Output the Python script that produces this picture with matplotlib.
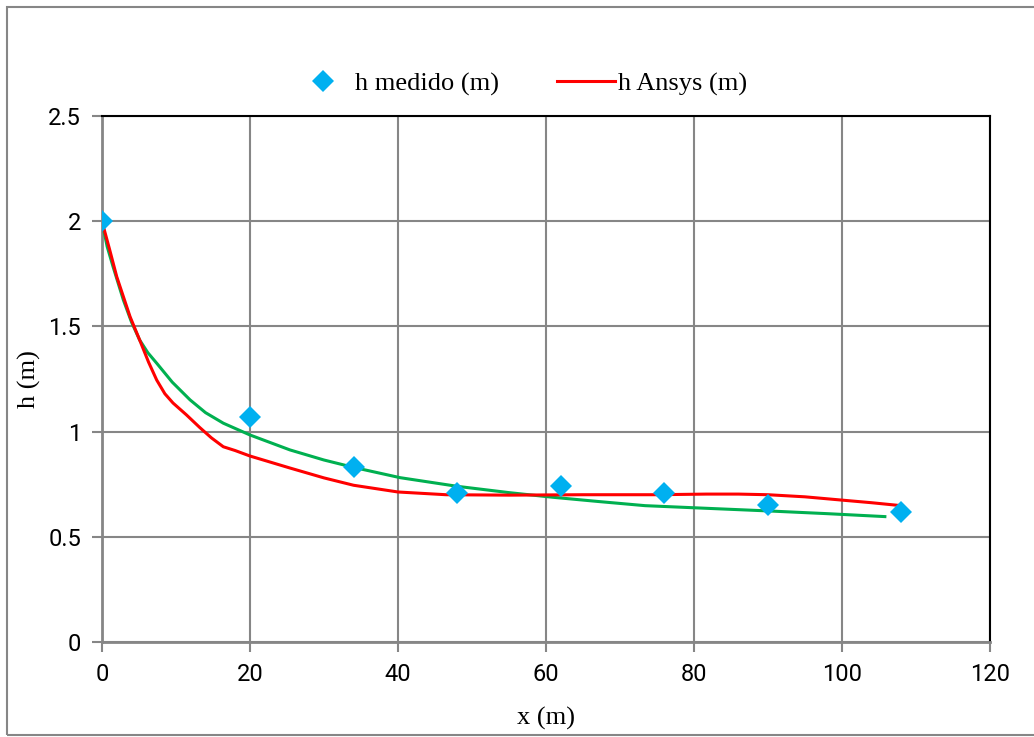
import matplotlib
matplotlib.use("Agg")
import matplotlib.pyplot as plt
from matplotlib.lines import Line2D

# measured points
x_medido = [0, 20, 34, 48, 62, 76, 90, 108]
h_medido = [2.0, 1.07, 0.83, 0.71, 0.74, 0.71, 0.65, 0.62]

# Ansys profile
x_ansys = [0, 1.0, 2.0, 3.8, 5.1, 6.3, 7.4, 8.5, 9.6, 11.4, 13.2, 14.8, 16.4,
           18, 20, 25.4, 30, 34, 40, 46.5, 55, 65, 75, 81.7, 86, 90, 95, 99.8,
           104, 108]
h_ansys = [2.0, 1.87, 1.736, 1.546, 1.435, 1.33, 1.245, 1.18, 1.136, 1.08,
           1.02, 0.97, 0.928, 0.91, 0.884, 0.827, 0.78, 0.745, 0.713, 0.70,
           0.698, 0.70, 0.70, 0.703, 0.703, 0.70, 0.69, 0.675, 0.662, 0.648]

# trend line (green)
x_trend = [0, 0.7, 1.5, 2.9, 4.0, 5.1, 6.2, 7.4, 9.5, 11.9, 14, 16.4, 20,
           25.4, 30, 34, 40.3, 48, 55, 60.9, 67, 73.4, 80, 90, 98, 105.8]
h_trend = [2.0, 1.88, 1.784, 1.625, 1.52, 1.435, 1.375, 1.325, 1.235, 1.151,
           1.09, 1.04, 0.984, 0.913, 0.865, 0.83, 0.781, 0.74, 0.71, 0.688,
           0.668, 0.648, 0.638, 0.623, 0.61, 0.596]

x_ticks = [0, 20, 40, 60, 80, 100, 120]
y_ticks = [0, 0.5, 1, 1.5, 2, 2.5]
y_ticklabels = ["0", "0.5", "1", "1.5", "2", "2.5"]

blue = "#00B0F0"
red = "#FF0000"
green = "#00B050"
gray = "#868686"
serif = ["Liberation Serif", "DejaVu Serif"]
sans = ["Roboto", "DejaVu Sans"]

fig = plt.figure(figsize=(10.34, 7.37), dpi=100)
ax = fig.add_axes([0.0986, 0.1289, 0.8588, 0.7137])

ax.plot(x_trend, h_trend, color=green, lw=2.2, zorder=3)
ax.plot(x_ansys, h_ansys, color=red, lw=2.2, zorder=4)
ax.plot(x_medido, h_medido, linestyle="none", marker="D", ms=11,
        color=blue, markeredgewidth=0, zorder=5)

ax.set_xlim(0, 120)
ax.set_ylim(0, 2.5)
ax.set_xticks(x_ticks)
ax.set_yticks(y_ticks)
ax.set_yticklabels(y_ticklabels)
ax.grid(True, color=gray, lw=1.5)
ax.set_axisbelow(True)
ax.tick_params(axis="both", direction="out", length=7, width=1.5,
               color=gray, labelsize=17, pad=8)
for lab in ax.get_xticklabels() + ax.get_yticklabels():
    lab.set_family(sans)

for side in ["left", "bottom"]:
    ax.spines[side].set_color(gray)
    ax.spines[side].set_linewidth(2)
for side in ["top", "right"]:
    ax.spines[side].set_color("black")
    ax.spines[side].set_linewidth(1.5)

ax.set_xlabel("x (m)", family=serif, fontsize=19, labelpad=15)
ax.set_ylabel("h (m)", family=serif, fontsize=19, labelpad=5)

handles = [
    Line2D([], [], linestyle="none", marker="D", ms=11, color=blue,
           markeredgewidth=0),
    Line2D([], [], color=red, lw=2.2),
]
fig.legend(handles, ["h medido (m)", "h Ansys (m)"], loc="center",
           bbox_to_anchor=(0.5036, 0.886), ncol=2, frameon=False,
           prop={"family": serif, "size": 19}, handlelength=2.2,
           handletextpad=0.1, columnspacing=2.2)

# outer chart border
fig.add_artist(plt.Rectangle((7 / 1034, 2 / 737), 1.1, 728 / 737,
                             transform=fig.transFigure, fill=False,
                             edgecolor=gray, lw=1.5))

fig.savefig("out.png", dpi=100)
